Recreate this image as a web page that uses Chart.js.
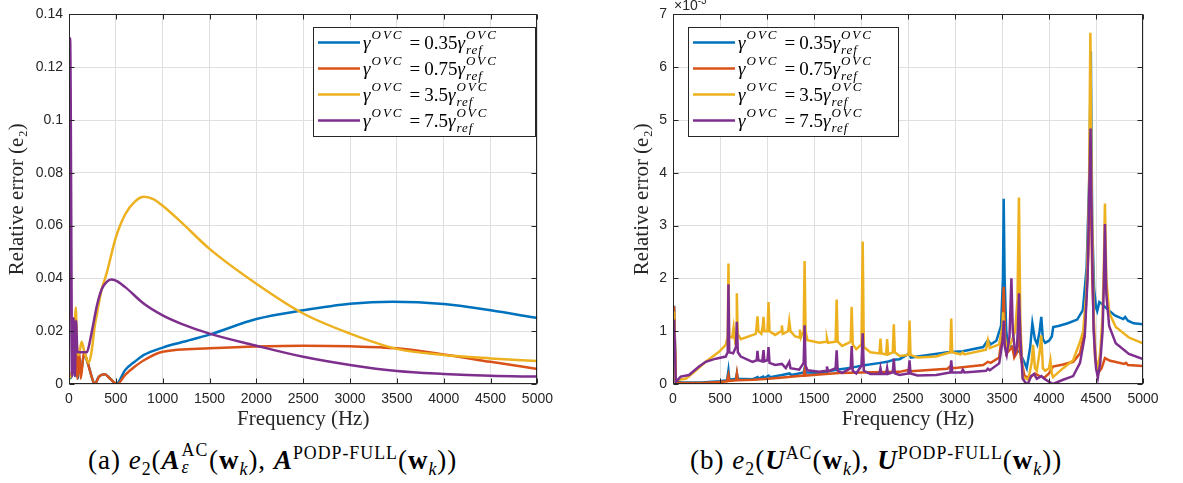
<!DOCTYPE html>
<html>
<head>
<meta charset="utf-8">
<script src="https://cdn.jsdelivr.net/npm/chart.js@4.4.1/dist/chart.umd.min.js"></script>
<style>
  html,body{margin:0;padding:0;background:#fff;}
  body{width:1183px;height:483px;position:relative;overflow:hidden;}
  .wrap{position:absolute;top:0;}
  .cap{position:absolute;font-family:'Liberation Serif',serif;font-size:27px;letter-spacing:1px;color:#000;white-space:nowrap;line-height:1;}
  .cap sub,.cap sup{font-size:0.66em;line-height:0;}
  .pair{display:inline-block;position:relative;width:1.05em;height:0.7em;}
  .pair .u{position:absolute;left:0.05em;bottom:0.5em;font-size:0.66em;}
  .pair .d{position:absolute;left:0.05em;top:0.5em;font-size:0.66em;font-style:italic;}
  .bi{font-weight:bold;font-style:italic;}
</style>
</head>
<body>
<div class="wrap" style="left:0;"><canvas id="cA" width="560" height="440"></canvas></div>
<div class="wrap" style="left:620px;"><canvas id="cB" width="563" height="440"></canvas></div>
<div class="cap" id="capA" style="left:88px;top:447px;">(a) <i>e</i><sub>2</sub>(<span class="bi">A</span><span class="pair"><span class="u">AC</span><span class="d">ε</span></span>(<b>w</b><sub><i>k</i></sub>), <span class="bi">A</span><sup>PODP-FULL</sup>(<b>w</b><sub><i>k</i></sub>))</div>
<div class="cap" id="capB" style="left:690px;top:447px;">(b) <i>e</i><sub>2</sub>(<span class="bi">U</span><sup>AC</sup>(<b>w</b><sub><i>k</i></sub>), <span class="bi">U</span><sup>PODP-FULL</sup>(<b>w</b><sub><i>k</i></sub>))</div>
<script>
// ---------- DATA ----------
const seriesFactors = ['0.35', '0.75', '3.5', '7.5'];
const seriesColors = ['#0072BD', '#D95319', '#EDB120', '#7E2F8E'];
const xTicksHz = [0, 500, 1000, 1500, 2000, 2500, 3000, 3500, 4000, 4500, 5000];
const leftYTicks = [0, 0.02, 0.04, 0.06, 0.08, 0.1, 0.12, 0.14];
const rightYTicks = [0, 1, 2, 3, 4, 5, 6, 7]; // ×10^-3

// (a) relative error of acoustic pressure
const a035Hz  = [0,30,55,65,80,95,110,125,160,200,240,272,320,380,440,505,600,700,800,1000,1200,1500,2000,2500,3000,3450,4000,4500,5000];
const a035Err = [0.002,0.003,0.02,0.003,0.015,0.002,0.01,0.004,0.011,0.008,0.003,0.0,0.0028,0.0037,0.002,0.0,0.0053,0.0084,0.011,0.0138,0.0158,0.0187,0.0246,0.0279,0.0304,0.0312,0.0303,0.0279,0.025];
const a075Hz  = [0,30,50,60,75,90,110,125,160,200,240,277,320,380,440,515,600,700,800,1000,1500,2000,2500,3000,3500,4000,4500,5000];
const a075Err = [0.003,0.004,0.018,0.004,0.022,0.002,0.012,0.002,0.012,0.008,0.003,0.0,0.0028,0.0037,0.002,0.0,0.0035,0.0065,0.009,0.0122,0.0135,0.0142,0.0145,0.0143,0.0135,0.0112,0.0084,0.0057];
const a35Hz   = [0,30,55,72,88,105,135,165,210,240,275,300,350,400,500,600,700,800,900,1000,1200,1500,2000,2500,3000,3500,4000,4500,5000];
const a35Err  = [0.002,0.004,0.01,0.029,0.012,0.011,0.016,0.012,0.008,0.012,0.022,0.027,0.036,0.0417,0.0555,0.0643,0.069,0.0709,0.070,0.0675,0.0612,0.0512,0.038,0.0267,0.0191,0.0133,0.011,0.0097,0.0087];
const a75Hz   = [0,12,35,50,62,75,90,120,190,210,250,300,350,400,450,500,600,800,1000,1200,1500,2000,2500,3000,3500,4000,4500,5000];
const a75Err  = [0.003,0.131,0.003,0.025,0.003,0.024,0.012,0.012,0.012,0.014,0.021,0.03,0.036,0.0386,0.0396,0.0392,0.0367,0.0304,0.026,0.0228,0.0191,0.0145,0.0103,0.0072,0.0049,0.0038,0.0031,0.0028];

// (b) relative error of displacement (values in units of 1e-3)
const b035Hz  = [0,12,30,100,300,500,575,590,600,670,680,690,850,900,910,960,970,1016,1030,1160,1240,1260,1390,1400,1410,1556,1741,1901,2018,2207,2278,2349,2410,2516,2530,2920,3083,3300,3350,3380,3440,3490,3510,3518,3528,3545,3560,3600,3650,3690,3740,3763,3800,3823,3850,3875,3900,3918,3935,3960,4000,4030,4045,4100,4200,4300,4360,4400,4430,4445,4460,4480,4500,4513,4535,4560,4600,4700,4790,4810,4840,4900,5000];
const b035Err = [1.46,1.46,0.05,0.03,0.03,0.05,0.07,0.26,0.08,0.1,0.2,0.1,0.09,0.13,0.1,0.14,0.11,0.16,0.13,0.17,0.2,0.17,0.22,0.3,0.22,0.21,0.27,0.31,0.35,0.4,0.42,0.46,0.47,0.58,0.5,0.6,0.62,0.7,0.83,0.75,0.82,1.1,2.0,3.51,2.0,1.0,0.8,0.7,0.65,0.6,0.4,0.3,0.7,1.15,0.85,0.75,1.0,1.27,0.85,0.78,0.82,0.9,1.08,1.1,1.15,1.22,1.4,2.2,4.0,6.3,3.0,1.8,1.45,1.38,1.55,1.52,1.45,1.3,1.23,1.27,1.2,1.15,1.13];
const b075Hz  = [0,12,30,100,300,500,575,590,600,670,680,690,850,1016,1200,1390,1400,1410,1556,1770,2000,2410,2516,2530,2920,2960,2980,3300,3350,3380,3470,3505,3518,3530,3545,3610,3630,3660,3680,3700,3740,3800,3850,3900,3950,4000,4043,4150,4257,4330,4380,4420,4440,4460,4490,4520,4560,4595,4650,4700,4800,4820,4840,5000];
const b075Err = [1.45,1.45,0.03,0.02,0.02,0.04,0.05,0.17,0.06,0.07,0.2,0.07,0.08,0.1,0.13,0.16,0.26,0.16,0.18,0.21,0.22,0.23,0.27,0.24,0.29,0.35,0.3,0.36,0.42,0.4,0.5,1.0,1.84,1.0,0.57,0.7,0.5,0.6,1.0,0.5,0.15,0.12,0.2,0.15,0.12,0.2,0.33,0.37,0.42,0.58,1.0,2.5,4.6,2.0,0.5,0.2,0.3,0.49,0.44,0.42,0.38,0.4,0.36,0.34];
const b35Hz   = [0,12,30,46,135,206,348,490,561,582,590,598,630,645,658,672,679,688,721,881,890,899,908,940,955,963,972,1005,1016,1027,1087,1150,1158,1168,1225,1237,1250,1300,1343,1350,1360,1390,1400,1410,1430,1556,1630,1638,1648,1730,1741,1752,1800,1890,1901,1912,1950,2005,2018,2030,2100,2196,2207,2218,2268,2278,2288,2338,2349,2360,2410,2505,2516,2527,2600,2800,2950,2960,2970,3060,3083,3100,3330,3350,3370,3470,3505,3512,3525,3560,3600,3640,3665,3680,3695,3720,3780,3815,3831,3850,3870,3900,3918,3935,3960,4000,4015,4030,4043,4150,4257,4330,4364,4400,4425,4440,4455,4480,4500,4520,4545,4570,4585,4595,4610,4640,4710,4850,5000];
const b35Err  = [1.35,1.35,0.08,0.08,0.1,0.2,0.42,0.61,0.74,0.9,2.28,0.9,0.88,1.07,0.85,0.95,1.72,0.95,0.85,0.95,1.1,1.28,1.0,0.95,1.1,1.27,1.0,1.0,1.55,1.0,0.93,1.0,1.11,0.95,1.0,1.19,1.0,0.9,0.88,1.03,0.88,1.0,2.33,1.0,0.83,0.78,0.8,0.86,0.78,0.8,1.6,0.8,0.72,0.8,1.46,0.75,0.66,0.75,2.7,0.7,0.6,0.58,0.86,0.58,0.56,0.85,0.56,0.6,1.13,0.6,0.53,0.55,1.2,0.55,0.5,0.52,0.6,1.24,0.6,0.56,0.6,0.56,0.65,0.83,0.68,0.75,1.1,1.36,0.9,0.65,0.8,1.0,1.6,3.53,1.2,0.14,0.08,0.4,0.74,0.3,0.25,0.6,0.92,0.3,0.25,0.3,0.45,0.2,0.13,0.3,0.45,0.8,1.0,1.8,3.5,6.65,3.5,1.0,0.45,0.3,0.6,1.3,2.4,3.42,2.0,1.35,1.08,0.88,0.77];
const b75Hz   = [0,12,30,82,170,277,348,455,561,582,590,598,640,670,679,690,721,845,890,899,908,950,963,972,1005,1016,1027,1087,1158,1200,1237,1250,1343,1390,1400,1410,1430,1556,1630,1638,1648,1730,1741,1752,1800,1890,1901,1912,1950,2005,2018,2030,2100,2196,2207,2218,2268,2278,2288,2338,2349,2360,2410,2505,2516,2527,2600,2800,2950,2960,2970,3070,3083,3100,3330,3350,3370,3470,3505,3518,3530,3550,3580,3600,3615,3640,3660,3672,3681,3695,3720,3760,3780,3810,3840,3870,3918,3950,4010,4043,4150,4257,4330,4380,4410,4430,4442,4455,4475,4500,4520,4545,4570,4585,4595,4610,4640,4710,4850,5000];
const b75Err  = [1.2,1.2,0.04,0.14,0.17,0.33,0.42,0.48,0.52,0.6,1.89,0.6,0.58,0.7,1.18,0.6,0.52,0.42,0.45,0.63,0.45,0.43,0.64,0.43,0.45,0.7,0.4,0.36,0.38,0.3,0.42,0.3,0.27,0.4,1.11,0.35,0.26,0.23,0.25,0.33,0.24,0.3,0.64,0.25,0.21,0.3,0.72,0.25,0.2,0.35,0.96,0.25,0.19,0.19,0.3,0.19,0.19,0.3,0.19,0.22,0.48,0.2,0.17,0.2,0.45,0.2,0.16,0.17,0.22,0.45,0.22,0.22,0.27,0.22,0.25,0.29,0.26,0.39,0.8,1.2,0.7,0.55,0.9,2.0,1.0,0.6,0.7,1.2,1.72,0.9,0.1,0.0,0.02,0.15,0.19,0.1,0.15,0.1,0.03,0.0,0.08,0.15,0.4,0.9,2.0,3.8,4.84,3.0,1.0,0.3,0.12,0.4,1.0,2.0,3.03,1.7,1.1,0.77,0.57,0.47];

// ---------- HELPERS ----------
const pts = (xs, ys) => xs.map((x, i) => ({x, y: ys[i]}));
const TXT = '#262626';
Chart.defaults.font.family = "'Liberation Sans', Arial, sans-serif";
Chart.defaults.font.size = 14;
Chart.defaults.color = TXT;

function drawLegendEntry(ctx, x, yBase, factor) {
  ctx.fillStyle = '#000';
  ctx.textBaseline = 'alphabetic';
  ctx.textAlign = 'left';
  const up = "19px 'Liberation Serif'", it = "italic 19px 'Liberation Serif'", sm = "italic 13px 'Liberation Serif'";
  let cx = x;
  ctx.font = it; ctx.fillText('γ', cx, yBase); cx += ctx.measureText('γ').width;
  ctx.font = sm; ctx.letterSpacing = '2px';
  ctx.fillText('OVC', cx + 1, yBase - 10); cx += ctx.measureText('OVC').width + 1;
  ctx.letterSpacing = '0px';
  ctx.font = up; cx += 6; ctx.fillText('=', cx, yBase); cx += ctx.measureText('=').width + 4;
  ctx.fillText(factor, cx, yBase); cx += ctx.measureText(factor).width;
  ctx.font = it; ctx.fillText('γ', cx, yBase); cx += ctx.measureText('γ').width;
  ctx.font = sm; ctx.letterSpacing = '2px';
  ctx.fillText('OVC', cx + 1, yBase - 10);
  ctx.letterSpacing = '1px';
  ctx.fillText('ref', cx + 1, yBase + 5);
  ctx.letterSpacing = '0px';
}

const framePlugin = {
  id: 'frame',
  afterDatasetsDraw(chart, args, opts) {
    const {ctx, chartArea: a, scales: {x, y}} = chart;
    ctx.save();
    ctx.strokeStyle = TXT; ctx.lineWidth = 1;
    const L = Math.round(a.left) + 0.5, R = Math.round(a.right) - 0.5;
    const T = Math.round(a.top) + 0.5, B = Math.round(a.bottom) - 0.5;
    ctx.strokeRect(L, T, R - L, B - T);
    ctx.beginPath();
    x.ticks.forEach(t => {
      const p = Math.round(x.getPixelForValue(t.value)) + 0.5;
      ctx.moveTo(p, B); ctx.lineTo(p, B - 5);
      ctx.moveTo(p, T); ctx.lineTo(p, T + 5);
    });
    y.ticks.forEach(t => {
      const p = Math.round(y.getPixelForValue(t.value)) + 0.5;
      ctx.moveTo(L, p); ctx.lineTo(L + 5, p);
      ctx.moveTo(R, p); ctx.lineTo(R - 5, p);
    });
    ctx.stroke();
    // legend
    const lb = opts.box;
    ctx.fillStyle = '#fff';
    ctx.fillRect(lb.x, lb.y, lb.w, lb.h);
    ctx.strokeStyle = TXT;
    ctx.strokeRect(lb.x + 0.5, lb.y + 0.5, lb.w, lb.h);
    chart.data.datasets.forEach((ds, i) => {
      const ly = lb.y + 15.5 + 26 * i;
      ctx.strokeStyle = ds.borderColor; ctx.lineWidth = 2.5;
      ctx.beginPath(); ctx.moveTo(lb.x + 5, ly); ctx.lineTo(lb.x + 47, ly); ctx.stroke();
      drawLegendEntry(ctx, lb.x + 50, ly + 6, seriesFactors[i]);
    });
    if (opts.exponent) {
      ctx.fillStyle = TXT; ctx.textAlign = 'left'; ctx.textBaseline = 'alphabetic';
      ctx.font = "14px 'Liberation Sans'";
      ctx.fillText('×10', a.left + 1, 10);
      const w = ctx.measureText('×10').width;
      ctx.font = "10px 'Liberation Sans'";
      ctx.fillText('-3', a.left + 1 + w, 4);
    }
    ctx.restore();
  }
};

function makeChart(id, datasets, yMin, yMax, yStep, yFmt, yWidth, titlePad, rightPad, legendBox, exponent, smooth) {
  return new Chart(document.getElementById(id), {
    type: 'line',
    data: {
      datasets: datasets.map((d, i) => ({
        label: 'γOVC = ' + seriesFactors[i] + 'γOVC_ref',
        data: d,
        borderColor: seriesColors[i],
        backgroundColor: seriesColors[i],
        borderWidth: 2.5,
        pointRadius: 0,
        fill: false,
        tension: 0,
        cubicInterpolationMode: smooth ? 'monotone' : 'default',
        order: 3 - i
      }))
    },
    options: {
      responsive: false,
      animation: false,
      layout: {padding: {left: 0, top: 13, right: rightPad, bottom: 0}},
      plugins: {legend: {display: false}, tooltip: {enabled: false}, frame: {box: legendBox, exponent}},
      scales: {
        x: {
          type: 'linear', min: 0, max: 5000,
          afterBuildTicks: s => { s.ticks = xTicksHz.map(v => ({value: v})); },
          ticks: {padding: 7, maxRotation: 0, autoSkip: false, callback: v => String(v)},
          grid: {color: '#dfdfdf', drawTicks: false, lineWidth: 1},
          border: {display: false},
          title: {display: true, text: 'Frequency (Hz)', font: {family: "'Liberation Serif'", size: 21}, color: TXT, padding: {top: 0, bottom: 8}},
          afterFit: s => { s.height = 56; }
        },
        y: {
          type: 'linear', min: yMin, max: yMax,
          afterBuildTicks: s => { s.ticks = yStep.map(v => ({value: v})); },
          ticks: {padding: 6, autoSkip: false, callback: yFmt},
          grid: {color: '#dfdfdf', drawTicks: false, lineWidth: 1},
          border: {display: false},
          title: {display: true, text: 'Relative error (e₂)', font: {family: "'Liberation Serif'", size: 21}, color: TXT, padding: {top: titlePad, bottom: 0}},
          afterFit: s => { s.width = yWidth; }
        }
      }
    },
    plugins: [framePlugin]
  });
}

makeChart('cA',
  [pts(a035Hz, a035Err), pts(a075Hz, a075Err), pts(a35Hz, a35Err), pts(a75Hz, a75Err)],
  0, 0.14, leftYTicks, v => String(+v.toFixed(2)), 69, 5, 22,
  {x: 313, y: 27, w: 222, h: 109}, false, true);

makeChart('cB',
  [pts(b035Hz, b035Err), pts(b075Hz, b075Err), pts(b35Hz, b35Err), pts(b75Hz, b75Err)],
  0, 7, rightYTicks, v => String(v), 53, 10, 40,
  {x: 68, y: 27, w: 210, h: 109}, true, false);
</script>
</body>
</html>
